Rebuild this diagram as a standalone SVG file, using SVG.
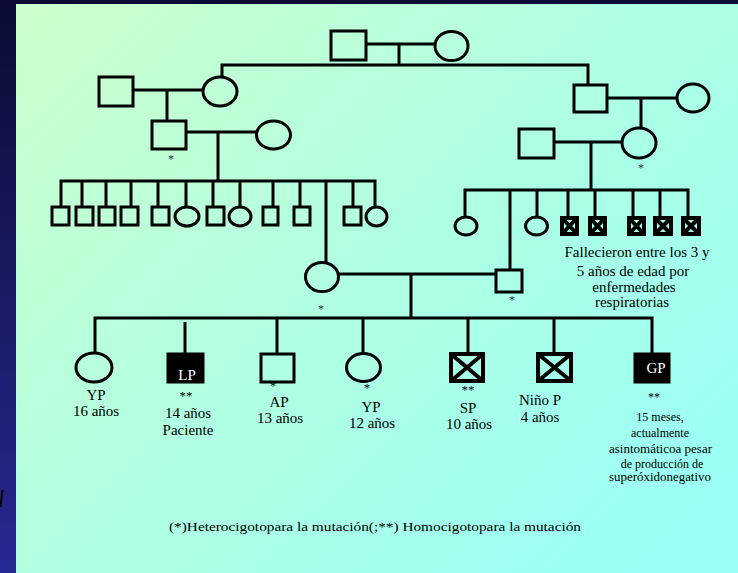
<svg xmlns="http://www.w3.org/2000/svg" width="738" height="573" viewBox="0 0 738 573">
  <defs>
    <linearGradient id="frame" x1="0" y1="0" x2="0" y2="573" gradientUnits="userSpaceOnUse">
      <stop offset="0" stop-color="#0b0b34"/>
      <stop offset="1" stop-color="#282892"/>
    </linearGradient>
    <linearGradient id="panel" x1="16" y1="4" x2="620" y2="620" gradientUnits="userSpaceOnUse">
      <stop offset="0" stop-color="#ccffcc"/>
      <stop offset="0.5" stop-color="#b0ffe2"/>
      <stop offset="1" stop-color="#99fff6"/>
    </linearGradient>
    <style>
      .ln { stroke: #000; stroke-width: 3; fill: none; }
      .nd { stroke: #000; stroke-width: 3; fill: none; }
      .fill { fill: #000; stroke: #000; stroke-width: 3; }
      .dead { stroke: #000; stroke-width: 4; fill: none; }
      .t { font-family: "Liberation Serif", "Times New Roman", serif; fill: #000; text-anchor: middle; }
      .t15 { font-size: 15px; }
      .t12 { font-size: 12px; }
      .w { fill: #fff; }
      .ast { font-family: "Liberation Serif", "Times New Roman", serif; font-size: 12px; fill: #333; text-anchor: middle; }
    </style>
  </defs>

  <!-- frame and panel -->
  <rect x="0" y="0" width="738" height="573" fill="url(#frame)"/>
  <rect x="16" y="4" width="722" height="569" fill="url(#panel)"/>
  <path d="M0.5,507 L2.5,490" stroke="#000" stroke-width="2"/>

  <!-- connectors -->
  <g id="connectors" class="ln">
    <!-- generation I -->
    <path d="M366,44 H435"/>
    <path d="M399,44 V65"/>
    <path d="M222,77 V65 H588 V84"/>
    <!-- generation II, left -->
    <path d="M133,90 H203"/>
    <path d="M167,90 V121"/>
    <path d="M186,132 H256"/>
    <path d="M218,132 V181"/>
    <path d="M61,207 V181 H375 V207"/>
    <path d="M82,181 V207 M106,181 V207 M131,181 V207 M158,181 V207 M186,181 V207 M213,181 V207 M240,181 V207 M273,181 V207 M300,181 V207 M353,181 V207"/>
    <path d="M326,181 V263"/>
    <!-- generation II, right -->
    <path d="M607,98 H677"/>
    <path d="M641,98 V128"/>
    <path d="M554,142 H622"/>
    <path d="M591,142 V190"/>
    <path d="M465,217 V190 H688 V217"/>
    <path d="M510,190 V269 M537,190 V217 M568,190 V217 M595,190 V217 M633,190 V217 M660,190 V217"/>
    <!-- couple and children -->
    <path d="M338,274 H495"/>
    <path d="M411,274 V318"/>
    <path d="M95,353 V318 H652 V353"/>
    <path d="M185,322 V353 M277,318 V353 M363,318 V353 M468,318 V353 M554,318 V353"/>
  </g>

  <!-- generation I -->
  <g id="gf-top"><rect class="nd" x="331" y="31" width="35" height="29"/></g>
  <g id="gm-top"><ellipse class="nd" cx="451.5" cy="46" rx="16.5" ry="14.5"/></g>

  <!-- left branch -->
  <g id="lp-gf"><rect class="nd" x="99" y="77" width="34" height="29"/></g>
  <g id="lp-gm"><ellipse class="nd" cx="220" cy="91.5" rx="17" ry="14.5"/></g>
  <g id="mgf">
    <rect class="nd" x="152" y="121" width="34" height="28"/>
    <text class="ast" x="171" y="163">*</text>
  </g>
  <g id="mgm"><ellipse class="nd" cx="273.5" cy="135" rx="17" ry="14"/></g>

  <!-- maternal siblings -->
  <g id="ms1"><rect class="nd" x="52" y="207" width="17" height="18"/></g>
  <g id="ms2"><rect class="nd" x="76" y="207" width="17" height="18"/></g>
  <g id="ms3"><rect class="nd" x="99" y="207" width="16" height="18"/></g>
  <g id="ms4"><rect class="nd" x="121" y="207" width="17" height="18"/></g>
  <g id="ms5"><rect class="nd" x="152" y="207" width="17" height="18"/></g>
  <g id="ms6"><ellipse class="nd" cx="187" cy="216.5" rx="12" ry="9.5"/></g>
  <g id="ms7"><rect class="nd" x="207" y="207" width="17" height="18"/></g>
  <g id="ms8"><ellipse class="nd" cx="240" cy="216.5" rx="11" ry="9.5"/></g>
  <g id="ms9"><rect class="nd" x="263" y="207" width="15" height="18"/></g>
  <g id="ms10"><rect class="nd" x="294" y="207" width="16" height="18"/></g>
  <g id="ms11"><rect class="nd" x="344" y="207" width="17" height="18"/></g>
  <g id="ms12"><ellipse class="nd" cx="376.5" cy="216.5" rx="10.5" ry="9.5"/></g>

  <!-- mother -->
  <g id="mother">
    <ellipse class="nd" cx="322" cy="277" rx="16.5" ry="14.5"/>
    <text class="ast" x="321" y="313">*</text>
  </g>

  <!-- right branch -->
  <g id="pgf-top"><rect class="nd" x="574" y="85" width="33" height="27"/></g>
  <g id="pgm-top"><ellipse class="nd" cx="693" cy="98" rx="16" ry="14"/></g>
  <g id="pgf"><rect class="nd" x="519" y="129" width="35" height="29"/></g>
  <g id="pgm">
    <ellipse class="nd" cx="639" cy="143" rx="17" ry="15"/>
    <text class="ast" x="641" y="172">*</text>
  </g>

  <!-- paternal siblings -->
  <g id="ps1"><ellipse class="nd" cx="466" cy="226" rx="11" ry="9"/></g>
  <g id="ps2"><ellipse class="nd" cx="536.5" cy="226" rx="11" ry="9"/></g>
  <g id="ps3"><rect class="dead" x="562" y="218" width="15" height="16"/><path class="dead" d="M562,218 L577,234 M577,218 L562,234" stroke-width="3.5"/></g>
  <g id="ps4"><rect class="dead" x="590" y="218" width="15" height="16"/><path class="dead" d="M590,218 L605,234 M605,218 L590,234" stroke-width="3.5"/></g>
  <g id="ps5"><rect class="dead" x="629" y="218" width="15" height="16"/><path class="dead" d="M629,218 L644,234 M644,218 L629,234" stroke-width="3.5"/></g>
  <g id="ps6"><rect class="dead" x="655" y="218" width="16" height="16"/><path class="dead" d="M655,218 L671,234 M671,218 L655,234" stroke-width="3.5"/></g>
  <g id="ps7"><rect class="dead" x="683" y="218" width="16" height="16"/><path class="dead" d="M683,218 L699,234 M699,218 L683,234" stroke-width="3.5"/></g>
  <g id="ps-note">
    <text class="t t15" x="637" y="257">Fallecieron entre los 3 y</text>
    <text class="t t15" x="633" y="276">5 años de edad por</text>
    <text class="t t15" x="634" y="292">enfermedades</text>
    <text class="t t15" x="632" y="307">respiratorias</text>
  </g>

  <!-- father -->
  <g id="father">
    <rect class="nd" x="496" y="270" width="26" height="22"/>
    <text class="ast" x="512" y="304">*</text>
  </g>

  <!-- children -->
  <g id="c-yp16">
    <ellipse class="nd" cx="94" cy="367.5" rx="18" ry="14.5"/>
    <text class="t t15" x="96" y="400">YP</text>
    <text class="t t15" x="96" y="416">16 años</text>
  </g>
  <g id="c-lp">
    <rect class="fill" x="168" y="354" width="35" height="28"/>
    <text class="t t15 w" x="187" y="380">LP</text>
    <text class="t" x="186" y="400" font-size="13" fill="#333">**</text>
    <text class="t t15" x="188" y="418">14 años</text>
    <text class="t t15" x="188" y="435">Paciente</text>
  </g>
  <g id="c-ap">
    <rect class="nd" x="261" y="354" width="33" height="28"/>
    <text class="t" x="273" y="390" font-size="12" fill="#333">*</text>
    <text class="t t15" x="279" y="407">AP</text>
    <text class="t t15" x="280" y="423">13 años</text>
  </g>
  <g id="c-yp12">
    <ellipse class="nd" cx="363.5" cy="367.5" rx="17" ry="14"/>
    <text class="t" x="367" y="392" font-size="13" fill="#333">*</text>
    <text class="t t15" x="371" y="412">YP</text>
    <text class="t t15" x="372" y="428">12 años</text>
  </g>
  <g id="c-sp">
    <rect class="dead" x="451" y="354" width="32" height="27"/>
    <path class="dead" d="M451,354 L483,381 M483,354 L451,381"/>
    <text class="t" x="468" y="394" font-size="13" fill="#333">**</text>
    <text class="t t15" x="468" y="413">SP</text>
    <text class="t t15" x="469" y="429">10 años</text>
  </g>
  <g id="c-ninop">
    <rect class="dead" x="538" y="354" width="33" height="27"/>
    <path class="dead" d="M538,354 L571,381 M571,354 L538,381"/>
    <text class="t t15" x="540" y="405" text-anchor="start">Niño P</text>
    <text class="t t15" x="540" y="422" text-anchor="start">4 años</text>
  </g>
  <g id="c-gp">
    <rect class="fill" x="635" y="354" width="34" height="28"/>
    <text class="t t15 w" x="656" y="373">GP</text>
    <text class="t t12" x="654" y="401" fill="#333">**</text>
    <text class="t t12" x="660" y="421">15 meses,</text>
    <text class="t t12" x="660" y="437">actualmente</text>
    <text class="t t12" x="660.5" y="453" textLength="103" lengthAdjust="spacingAndGlyphs">asintomáticoa pesar</text>
    <text class="t t12" x="662" y="468">de producción de</text>
    <text class="t t12" x="660" y="481" textLength="102" lengthAdjust="spacingAndGlyphs">superóxidonegativo</text>
  </g>

  <!-- legend -->
  <text class="t" x="375" y="531" font-size="13.5" textLength="412" lengthAdjust="spacingAndGlyphs">(*)Heterocigotopara la mutación(;**) Homocigotopara la mutación</text>
</svg>
